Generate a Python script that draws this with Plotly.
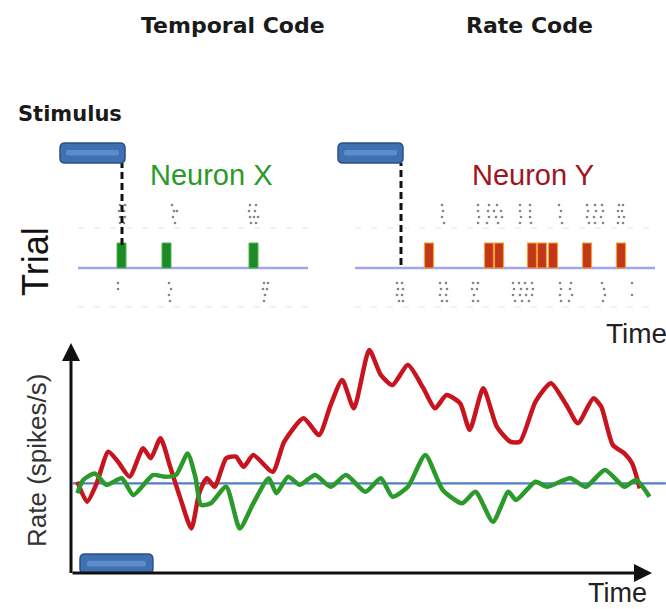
import plotly.graph_objects as go

# ------------------------------------------------------------------ data
# Bottom panel: firing rate vs time (time 0-100 a.u., rate 0-100 a.u.)
RED_T = [1.10, 2.77, 4.42, 6.42, 8.09, 10.09, 12.41, 13.73, 15.40, 17.07, 18.73,
         20.72, 22.07, 23.39, 24.72, 26.71, 28.38, 29.71, 31.38, 34.70, 36.70,
         40.02, 42.69, 44.68, 46.68, 48.68, 51.33, 53.32, 55.32, 57.99, 60.65,
         62.65, 64.63, 66.97, 68.62, 70.96, 73.29, 75.61, 77.28, 79.95, 82.60,
         85.27, 87.26, 89.91, 91.26, 93.25, 95.25, 96.57, 97.90]
RED_RATE = [39.7, 31.0, 39.0, 52.7, 48.4, 41.9, 54.2, 49.9, 58.6, 46.2, 33.2,
            19.4, 34.7, 41.2, 37.5, 49.9, 50.6, 46.2, 51.3, 44.0, 57.1,
            67.3, 60.0, 73.0, 83.9, 71.6, 97.0, 86.1, 81.7, 90.4, 80.3,
            71.6, 77.4, 73.8, 62.2, 80.3, 63.6, 57.1, 57.1, 74.5, 82.5,
            73.0, 65.1, 76.0, 72.3, 55.7, 52.0, 47.7, 36.8]
GREEN_T = [1.10, 2.10, 4.10, 6.09, 8.74, 10.74, 14.08, 16.08, 18.07, 20.07, 21.39,
           22.39, 24.06, 26.71, 29.04, 31.38, 34.03, 35.37, 37.37, 39.36, 42.01,
           44.68, 47.33, 50.67, 53.32, 55.32, 57.99, 60.98, 63.98, 67.30, 69.62,
           72.62, 75.28, 76.61, 79.95, 81.93, 85.92, 88.59, 91.91, 95.25, 97.25,
           99.57]
GREEN_RATE = [34.7, 40.4, 43.3, 38.3, 41.2, 33.9, 42.6, 41.9, 42.6, 52.0, 41.9,
              29.6, 30.3, 37.5, 19.4, 30.3, 41.2, 34.7, 41.9, 38.3, 42.6,
              37.5, 42.6, 35.3, 41.2, 33.2, 37.5, 51.3, 36.1, 30.3, 35.3,
              22.3, 35.3, 31.7, 39.7, 37.5, 41.2, 37.5, 44.8, 37.5, 40.4,
              33.2]
BASELINE_RATE = 39.0
RATE_STIM_T = [1.55, 14.1]          # stimulus on / off (bottom time axis)
RATE_STIM_LEVEL = [-0.4, 8.3]

# Top panels: spike rasters (time in ms from stimulus onset)
STIM_T_X = [-31.0, 1.5]
STIM_T_Y = [-31.5, 1.0]
STIM_ROW = [14.7, 16.7]

HIGHLIGHT_TRIAL = 4.2
SPIKE_HEIGHT = 2.5
X_SPIKES = [-0.25, 22.25, 65.75]
Y_SPIKES = [14.0, 44.0, 49.0, 65.5, 70.5, 76.0, 93.0, 110.0]

RASTER_ROWS = [10.5, 9.9, 9.3, 8.7, 2.7, 2.1, 1.5, 0.9]
X_RASTER = [
    [-1.0, 1.5, 25.0, 64.0, 67.0],
    [-1.5, 1.0, 26.0, 27.5, 63.5, 66.5],
    [-1.0, 1.5, 25.5, 64.0, 66.0, 68.0],
    [-1.0, 1.0, 26.5, 64.5, 67.0],
    [-2.0, 23.5, 71.0, 73.0],
    [-2.0, 24.5, 70.5, 72.5],
    [23.5, 71.5],
    [24.0, 71.0],
]
Y_RASTER = [
    [0.0, 20.5, 38.5, 44.0, 48.0, 59.5, 64.5, 79.0, 93.0, 97.0, 100.5, 109.0, 111.0],
    [21.0, 38.5, 43.5, 46.5, 50.0, 59.5, 64.5, 80.0, 93.5, 97.5, 101.0, 108.5, 110.5],
    [0.0, 20.5, 39.0, 44.0, 47.5, 50.5, 60.0, 64.5, 79.5, 93.0, 96.5, 100.0, 109.0, 111.5],
    [21.5, 38.5, 43.0, 48.5, 59.5, 65.0, 80.5, 94.0, 97.0, 101.0, 108.5, 111.0],
    [-2.0, 0.5, 19.5, 22.5, 36.0, 38.5, 56.0, 59.0, 62.0, 65.5, 79.5, 85.0, 100.5, 115.5],
    [-1.5, 1.0, 20.0, 23.0, 35.5, 38.0, 56.5, 60.0, 63.0, 66.0, 80.0, 84.5, 101.5],
    [-2.0, 0.5, 19.5, 22.5, 36.5, 56.0, 59.5, 62.5, 65.5, 79.5, 85.5, 102.0, 115.5],
    [-1.0, 1.0, 20.5, 23.0, 36.0, 38.5, 57.0, 60.5, 64.0, 80.0, 84.0, 101.0],
]
X_TRIAL_SPAN = [-22.0, 93.0]
Y_TRIAL_SPAN = [-23.0, 127.0]
X_ONSET_SPAN = [6.5, 14.7]
Y_ONSET_SPAN = [4.5, 14.7]
GUIDE_ROWS = [8.2, 0.3]

# ------------------------------------------------------------------ style
FONT = "Liberation Sans, Arial, sans-serif"
FONT_BOLD = "DejaVu Sans, Verdana, sans-serif"
BLACK = "#111111"
GREEN = "#2a9a2a"
RED = "#c8141e"
BLUE_LINE = "#4f7fc0"
BAR_FILL = "#3f70b2"
BAR_EDGE = "#2a4f86"


def rrect(x0, x1, y0, y1, rx, ry):
    return (f"M{x0+rx},{y0} L{x1-rx},{y0} Q{x1},{y0} {x1},{y0+ry} "
            f"L{x1},{y1-ry} Q{x1},{y1} {x1-rx},{y1} L{x0+rx},{y1} "
            f"Q{x0},{y1} {x0},{y1-ry} L{x0},{y0+ry} Q{x0},{y0} {x0+rx},{y0} Z")


def flat(rows, times):
    xs, ys = [], []
    for r, ts in zip(rows, times):
        xs += ts
        ys += [r] * len(ts)
    return xs, ys


fig = go.Figure()

# ---------------- bottom panel
fig.add_trace(go.Scatter(x=RED_T, y=RED_RATE, mode="lines",
                         line=dict(color=RED, width=4.5, shape="spline", smoothing=0.6),
                         xaxis="x", yaxis="y", hoverinfo="skip"))
fig.add_trace(go.Scatter(x=GREEN_T, y=GREEN_RATE, mode="lines",
                         line=dict(color=GREEN, width=4.5, shape="spline", smoothing=0.6),
                         xaxis="x", yaxis="y", hoverinfo="skip"))

# ---------------- top panels: rasters
for xa, ya, rows in (("x2", "y2", X_RASTER), ("x3", "y3", Y_RASTER)):
    xs, ys = flat(RASTER_ROWS, rows)
    fig.add_trace(go.Scatter(x=xs, y=ys, mode="markers",
                             marker=dict(color="#333333", size=2.6, opacity=0.6),
                             xaxis=xa, yaxis=ya, hoverinfo="skip"))

fig.add_trace(go.Bar(x=X_SPIKES, y=[SPIKE_HEIGHT] * len(X_SPIKES),
                     base=HIGHLIGHT_TRIAL, width=4.5,
                     marker=dict(color="#1c8a26", line=dict(color="#4fb84a", width=1)),
                     xaxis="x2", yaxis="y2", hoverinfo="skip"))
fig.add_trace(go.Bar(x=Y_SPIKES, y=[SPIKE_HEIGHT] * len(Y_SPIKES),
                     base=HIGHLIGHT_TRIAL, width=4.5,
                     marker=dict(color="#c3361a", line=dict(color="#f0a035", width=1.2)),
                     xaxis="x3", yaxis="y3", hoverinfo="skip"))

shapes = []
# trial baselines and faint guide rows
for xr, yr, span in (("x2", "y2", X_TRIAL_SPAN), ("x3", "y3", Y_TRIAL_SPAN)):
    shapes.append(dict(type="line", xref=xr, yref=yr, x0=span[0], x1=span[1],
                       y0=HIGHLIGHT_TRIAL, y1=HIGHLIGHT_TRIAL,
                       line=dict(color="#a3a3ee", width=2.5), layer="below"))
    for g in GUIDE_ROWS:
        shapes.append(dict(type="line", xref=xr, yref=yr, x0=span[0], x1=span[1],
                           y0=g, y1=g, line=dict(color="#e4e4e4", width=1, dash="6px,10px"),
                           layer="below"))
# onset dashed lines
for xr, yr, span in (("x2", "y2", X_ONSET_SPAN), ("x3", "y3", Y_ONSET_SPAN)):
    shapes.append(dict(type="line", xref=xr, yref=yr, x0=0, x1=0, y0=span[0], y1=span[1],
                       line=dict(color=BLACK, width=3, dash="7px,4px")))
# stimulus bars (top)
for xr, yr, st in (("x2", "y2", STIM_T_X), ("x3", "y3", STIM_T_Y)):
    shapes.append(dict(type="path", xref=xr, yref=yr,
                       path=rrect(st[0], st[1], STIM_ROW[0], STIM_ROW[1], 2.5, 0.5),
                       fillcolor=BAR_FILL, line=dict(color=BAR_EDGE, width=1.5)))
    shapes.append(dict(type="path", xref=xr, yref=yr,
                       path=rrect(st[0] + 3, st[1] - 3, STIM_ROW[0] + 0.75, STIM_ROW[1] - 0.7, 1, 0.2),
                       fillcolor="#5d8ccc", line=dict(width=0)))
# bottom baseline
shapes.append(dict(type="line", xref="x", yref="y", x0=0.3, x1=102.4,
                   y0=BASELINE_RATE, y1=BASELINE_RATE,
                   line=dict(color=BLUE_LINE, width=2.2), layer="below"))
# bottom stimulus bar
shapes.append(dict(type="path", xref="x", yref="y",
                   path=rrect(RATE_STIM_T[0], RATE_STIM_T[1], RATE_STIM_LEVEL[0], RATE_STIM_LEVEL[1], 0.9, 2.2),
                   fillcolor=BAR_FILL, line=dict(color=BAR_EDGE, width=1.5)))
shapes.append(dict(type="path", xref="x", yref="y",
                   path=rrect(RATE_STIM_T[0] + 1.2, RATE_STIM_T[1] - 1.2, RATE_STIM_LEVEL[0] + 3.2,
                              RATE_STIM_LEVEL[1] - 3.0, 0.4, 0.8),
                   fillcolor="#5d8ccc", line=dict(width=0)))

annotations = []
# axis arrows
annotations.append(dict(x=100, y=0, ax=0, ay=0, xref="x", yref="y", axref="x", ayref="y",
                        text="", showarrow=True, arrowhead=2, arrowsize=1.2,
                        arrowwidth=3, arrowcolor=BLACK))
annotations.append(dict(x=0, y=100, ax=0, ay=-0.6, xref="x", yref="y", axref="x", ayref="y",
                        text="", showarrow=True, arrowhead=2, arrowsize=1.2,
                        arrowwidth=3, arrowcolor=BLACK))


def label(text, x, y, size, color=BLACK, bold=False, angle=0, xanchor="center"):
    t = f"<b>{text}</b>" if bold else text
    annotations.append(dict(text=t, x=x, y=y, xref="paper", yref="paper",
                            xanchor=xanchor, yanchor="middle", showarrow=False,
                            textangle=angle,
                            font=dict(family=FONT_BOLD if bold else FONT, size=size, color=color)))


label("Temporal Code", 233 / 666, 1 - 26 / 609, 22, "#1a1a1a", bold=True)
label("Rate Code", 529 / 666, 1 - 26 / 609, 22, "#1a1a1a", bold=True)
label("Stimulus", 16 / 666, 1 - 114 / 609, 21, "#1a1a1a", bold=True, xanchor="left")
label("Neuron X", 211 / 666, 1 - 175 / 609, 29, GREEN)
label("Neuron Y", 533 / 666, 1 - 175 / 609, 29, "#a0141e")
label("Trial", 36 / 666, 1 - 262 / 609, 36, BLACK, angle=-90)
label("Rate (spikes/s)", 37 / 666, 1 - 461 / 609, 26, "#333333", angle=-90)
label("Time", 604 / 666, 1 - 333 / 609, 28, "#222222", xanchor="left")
label("Time", 617 / 666, 1 - 593 / 609, 27, "#222222")

hidden = dict(visible=False, showgrid=False, zeroline=False, fixedrange=True)
fig.update_layout(
    width=666, height=609,
    margin=dict(l=0, r=0, t=0, b=0),
    paper_bgcolor="white", plot_bgcolor="white",
    showlegend=False,
    xaxis=dict(domain=[71 / 666, 1], range=[0, 102.41], **hidden),
    yaxis=dict(domain=[36 / 609, 266 / 609], range=[0, 100], **hidden),
    xaxis2=dict(domain=[0, 0.5], range=[-61, 105.5], anchor="y2", **hidden),
    yaxis2=dict(domain=[299 / 609, 479 / 609], range=[0, 18], anchor="x2", **hidden),
    xaxis3=dict(domain=[0.5, 1], range=[-34, 132.5], anchor="y3", **hidden),
    yaxis3=dict(domain=[299 / 609, 479 / 609], range=[0, 18], anchor="x3", **hidden),
    shapes=shapes,
    annotations=annotations,
)

fig.write_html("out.html",
               config={"displayModeBar": False, "staticPlot": True},
               post_script="document.body.style.margin='0px';document.body.style.overflow='hidden';")
